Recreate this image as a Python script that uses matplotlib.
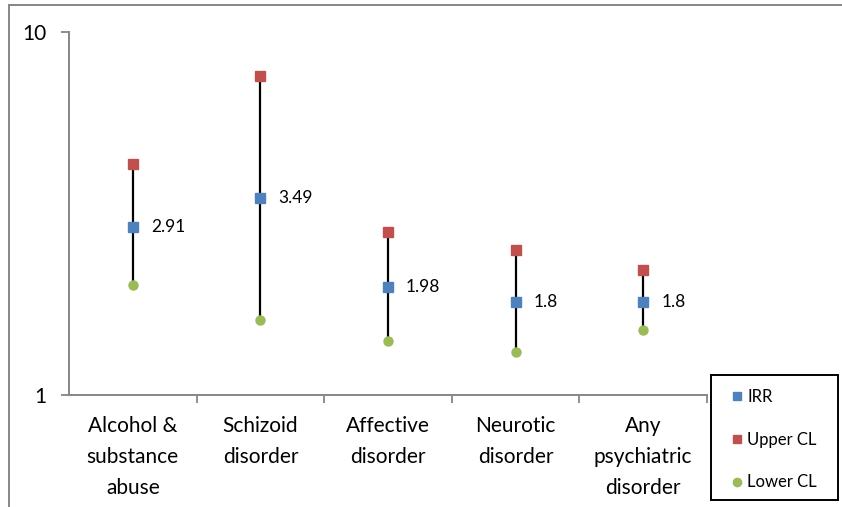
import matplotlib.pyplot as plt
from matplotlib.lines import Line2D
from matplotlib.patches import Rectangle

# ─── Data ────────────────────────────────────────────────────────────────────

CATEGORIES = ["Alcohol &\nsubstance\nabuse", "Schizoid\ndisorder",
              "Affective\ndisorder", "Neurotic\ndisorder",
              "Any\npsychiatric\ndisorder"]
IRR = [2.91, 3.49, 1.98, 1.8, 1.8]
UPPER_CL = [4.33, 7.56, 2.81, 2.51, 2.21]
LOWER_CL = [2.01, 1.61, 1.41, 1.31, 1.51]

BLUE = "#4F81BD"
RED = "#C0504D"
GREEN = "#9BBB59"
AXIS_GREY = "#868686"

plt.rcParams["font.family"] = ["Lato", "DejaVu Sans"]

W, H = 842, 507

# ─── Figure ──────────────────────────────────────────────────────────────────

fig = plt.figure(figsize=(W / 100, H / 100), dpi=100)
ax = fig.add_axes([69 / W, 1 - 395 / H, 638 / W, 363 / H])

x = range(len(CATEGORIES))

# confidence interval whiskers
ax.vlines(x, LOWER_CL, UPPER_CL, color="black", linewidth=1.6, zorder=2)

ax.plot(x, IRR, linestyle="none", marker="s", markersize=6.5,
        color=BLUE, zorder=3, label="IRR")
ax.plot(x, UPPER_CL, linestyle="none", marker="s", markersize=6.5,
        color=RED, zorder=3, label="Upper CL")
ax.plot(x, LOWER_CL, linestyle="none", marker="o", markersize=6.5,
        color=GREEN, zorder=3, label="Lower CL")

for xi, v in zip(x, IRR):
    ax.annotate(f"{v:g}", (xi, v), xytext=(13, 0), textcoords="offset points",
                ha="left", va="center", fontsize=12.5)

ax.set_yscale("log")
ax.set_ylim(1, 10)
ax.set_yticks([1, 10])
ax.set_yticklabels(["1", "10"])
ax.yaxis.set_minor_locator(plt.NullLocator())

ax.set_xlim(-0.5, len(CATEGORIES) - 0.5)
ax.set_xticks([i + 0.5 for i in x])
ax.set_xticklabels([])
ax.set_xticks(list(x), minor=True)
ax.set_xticklabels(CATEGORIES, minor=True, fontsize=15, linespacing=1.7)
ax.tick_params(axis="x", which="major", direction="out", length=6,
               width=1.3, color=AXIS_GREY)
ax.tick_params(axis="x", which="minor", length=0, pad=15)
ax.tick_params(axis="y", direction="out", length=6, width=1.3,
               color=AXIS_GREY, labelsize=15, pad=10)

for side in ["top", "right"]:
    ax.spines[side].set_visible(False)
for side in ["left", "bottom"]:
    ax.spines[side].set_color(AXIS_GREY)
    ax.spines[side].set_linewidth(1.4)

# legend: black box in the lower right corner, entries placed inside it
fig.add_artist(Rectangle((711 / W, 1 - 500 / H), 127 / W, 125 / H,
                         transform=fig.transFigure, facecolor="white",
                         edgecolor="black", linewidth=1.4))
handles = [
    Line2D([], [], linestyle="none", marker="s", markersize=6, color=BLUE),
    Line2D([], [], linestyle="none", marker="s", markersize=6, color=RED),
    Line2D([], [], linestyle="none", marker="o", markersize=6, color=GREEN),
]
leg = fig.legend(handles, ["IRR", "Upper CL", "Lower CL"],
                 loc="upper left", bbox_to_anchor=(733 / W, 1 - 389 / H),
                 frameon=False, fontsize=12,
                 handlelength=0.5, handletextpad=0.35, labelspacing=1.6,
                 borderpad=0, borderaxespad=0)

# outer chart frame
fig.add_artist(Line2D([9 / W, 9 / W], [0, 1 - 5 / H],
                      color=AXIS_GREY, linewidth=1.4))
fig.add_artist(Line2D([9 / W, 1], [1 - 5 / H, 1 - 5 / H],
                      color=AXIS_GREY, linewidth=1.4))

fig.savefig("out.png", dpi=100)
